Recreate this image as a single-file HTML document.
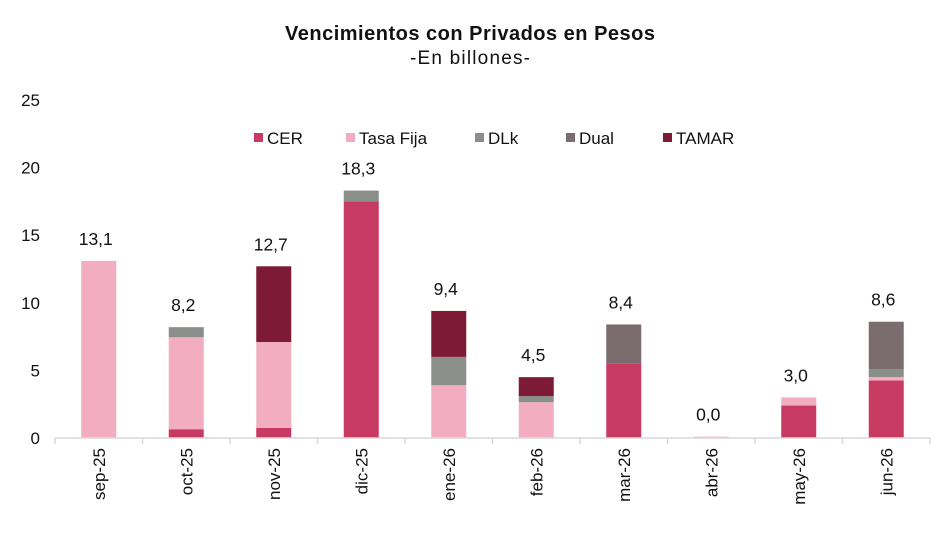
<!DOCTYPE html>
<html><head><meta charset="utf-8"><style>
body{margin:0;background:#fff;font-family:"Liberation Sans",sans-serif}
svg text{font-family:"Liberation Sans",sans-serif;fill:#111}
</style></head><body>
<svg width="946" height="544">
<text x="470" y="40" text-anchor="middle" font-size="20" font-weight="bold" textLength="370">Vencimientos con Privados en Pesos</text>
<text x="470" y="64" text-anchor="middle" font-size="19" textLength="120">-En billones-</text>
<g id="legend"></g>
<g id="yaxis"></g>
<g id="bars"></g>
<g id="xaxis"></g>
</svg>
<script>
const categories=["sep-25","oct-25","nov-25","dic-25","ene-26","feb-26","mar-26","abr-26","may-26","jun-26"];
const seriesNames=["CER","Tasa Fija","DLk","Dual","TAMAR"];
const colors=["#c73b62","#f2adc0","#8a8f8c","#7b6c70","#7d1b36"];
const cer=[0,0.65,0.75,17.5,0,0,5.5,0,2.4,4.25];
const tasaFija=[13.1,6.8,6.35,0,3.9,2.65,0,0.1,0.6,0.25];
const dlk=[0,0.75,0,0.8,2.1,0.45,0,0,0,0.6];
const dual=[0,0,0,0,0,0,2.9,0,0,3.5];
const tamar=[0,0,5.6,0,3.4,1.4,0,0,0,0];
const totals=["13,1","8,2","12,7","18,3","9,4","4,5","8,4","0,0","3,0","8,6"];
const yTicks=[0,5,10,15,20,25];
const series=[cer,tasaFija,dlk,dual,tamar];
const NS="http://www.w3.org/2000/svg";
const x0=55,x1=930,y0=438,yTop=100,yMax=25;
const bw=(x1-x0)/categories.length;
const y=v=>y0-(v/yMax)*(y0-yTop);
const xc=i=>x0+bw*(i+0.5);
function mk(t,a,p){const e=document.createElementNS(NS,t);for(const k in a)e.setAttribute(k,a[k]);p.appendChild(e);return e;}
const ya=document.getElementById('yaxis');
yTicks.forEach(v=>{const t=mk('text',{x:40,y:y(v)+6,'text-anchor':'end','font-size':17},ya);t.textContent=v;

});
const xa=document.getElementById('xaxis');
const ax=mk('line',{x1:x0,x2:x1,y1:y0,y2:y0,stroke:'#d9d9d9','stroke-width':1.5},xa);


for(let i=0;i<=categories.length;i++){const l=mk('line',{x1:x0+bw*i,x2:x0+bw*i,y1:y0,y2:y0+6,stroke:'#d9d9d9','stroke-width':1.5},xa);

}
const bg=document.getElementById('bars');
categories.forEach((c,i)=>{
  const t=mk('text',{x:0,y:0,'text-anchor':'end','font-size':17,transform:`translate(${xc(i)+6},448) rotate(-90)`},xa);t.textContent=c;
  
  
  let acc=0;
  series.forEach((s,k)=>{const v=s[i];if(v<=0)return;
    const r=mk('rect',{x:xc(i)-17.5,y:y(acc+v),width:35,height:y(acc)-y(acc+v),fill:colors[k]},bg);
    
    
    acc+=v;});
  const lb=mk('text',{x:xc(i)-3,y:y(acc)-16,'text-anchor':'middle','font-size':17.5},bg);lb.textContent=totals[i];
  
  
});
const lg=document.getElementById('legend');
const lx=[254,346,475,566,663];
seriesNames.forEach((n,k)=>{
  const r=mk('rect',{x:lx[k],y:133,width:9,height:9,fill:colors[k]},lg);
  
  
  const t=mk('text',{x:lx[k]+13,y:144,'font-size':17},lg);t.textContent=n;
  
  
});
</script>
</body></html>
